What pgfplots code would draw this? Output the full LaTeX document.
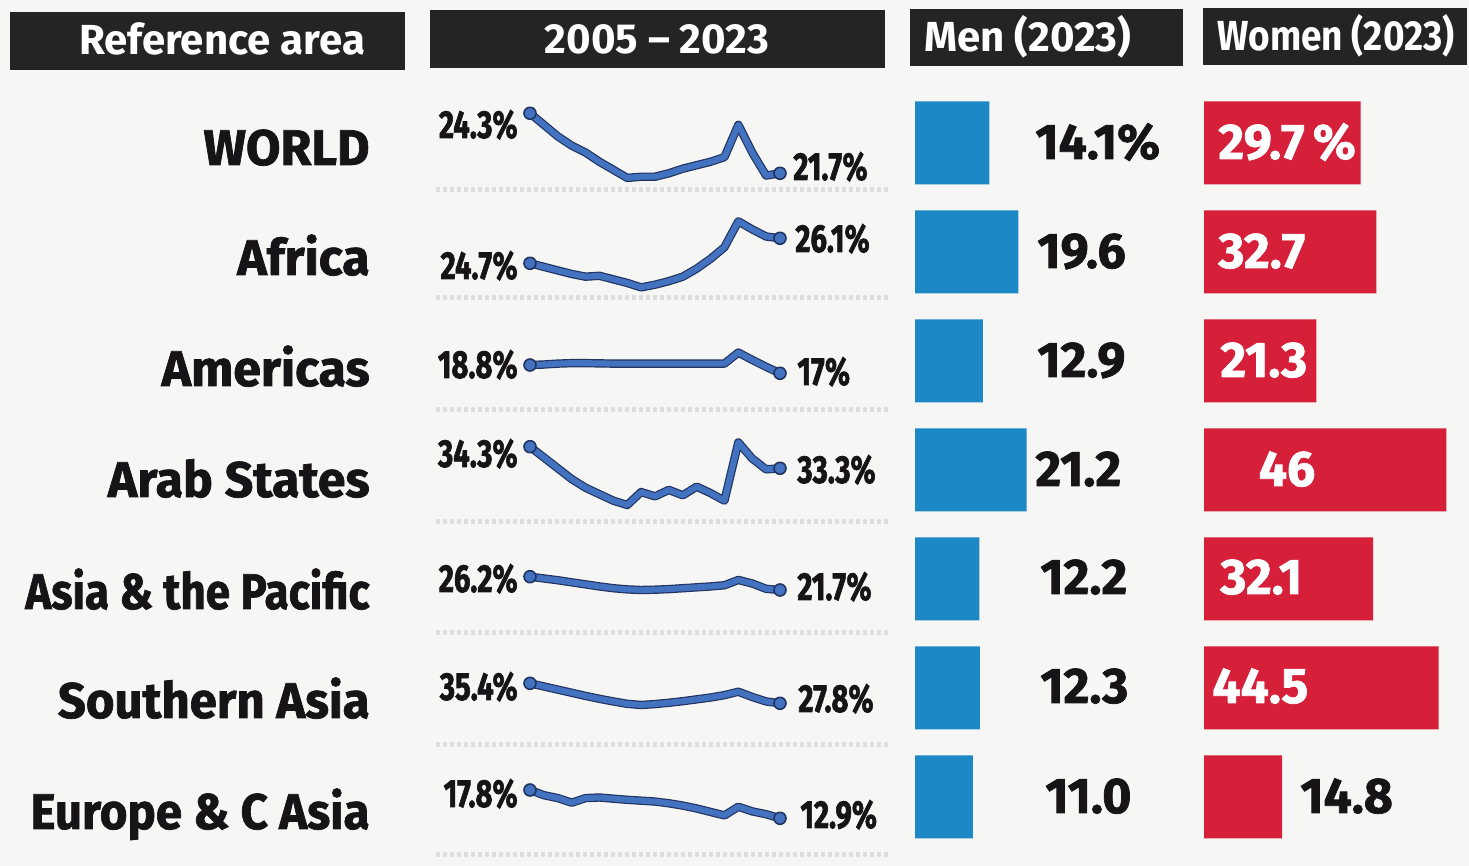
\documentclass[border=0pt]{standalone}
\usepackage{pgfplots}
\usepackage{pgfplotstable}
\usepackage{graphicx}
\pgfplotsset{compat=1.18}
\usepackage{fontspec}
\setmainfont{Fira Sans}
\newfontfamily\heavy[FakeBold=1.4]{Fira Sans}
\newfontfamily\heavier[FakeBold=2.0]{Fira Sans}

\definecolor{bg}{RGB}{246,246,244}
\definecolor{hdr}{RGB}{36,36,36}
\definecolor{menblue}{RGB}{28,136,198}
\definecolor{womred}{RGB}{214,32,58}
\definecolor{spark}{RGB}{66,114,192}
\definecolor{sparkdark}{RGB}{34,52,96}
\definecolor{ink}{RGB}{22,20,22}

% NEET rates 2005-2023 (share of youth not in employment, education or training), %
\pgfplotstableread{
year world africa americas arab asiapac sasia europe
2005 24.3  24.7  18.8  34.3  26.2  35.4  17.8
2006 23.8  24.5  18.9  33.8  25.6  34.2  16.9
2007 23.3  24.3  19.1  33.3  25.0  33.0  16.4
2008 22.9  24.1  19.2  32.8  24.3  31.8  15.6
2009 22.6  23.95 19.2  32.4  23.6  30.6  16.4
2010 22.2  24.0  19.15 32.1  22.9  29.5  16.5
2011 21.85 23.8  19.1  31.8  22.3  28.5  16.3
2012 21.5  23.6  19.1  31.6  21.9  27.6  16.1
2013 21.55 23.35 19.1  32.2  21.7  27.15 15.95
2014 21.55 23.5  19.1  32.0  21.8  27.5  15.8
2015 21.7  23.7  19.1  32.3  22.0  28.0  15.5
2016 21.9  23.95 19.1  32.05 22.3  28.6  15.1
2017 22.05 24.4  19.1  32.45 22.6  29.3  14.6
2018 22.2  24.95 19.1  32.15 22.9  30.0  14.0
2019 22.4  25.6  19.1  31.8  23.3  30.9  13.4
2020 23.8  27.05 21.5  34.5  25.1  32.2  14.9
2021 22.6  26.6  19.9  33.75 23.9  30.2  14.1
2022 21.6  26.2  18.4  33.25 22.1  28.5  13.6
2023 21.7  26.1  17.0  33.3  21.7  27.8  12.9
}\sparkdata

\pgfplotstableread{
idx men women
0 14.1 29.7
1 19.6 32.7
2 12.9 21.3
3 21.2 46.0
4 12.2 32.1
5 12.3 44.5
6 11.0 14.8
}\bardata

\pgfplotsset{
  spk/.style={anchor=south west, width=125pt, scale only axis,
    xmin=2005, xmax=2023, hide axis, clip=false},
  barax/.style={anchor=south west, width=131.75pt, height=381.5pt, scale only axis,
    xmin=0, xmax=50, ymin=-0.5, ymax=6.5, y dir=reverse, hide axis, clip=false,
    xbar, bar width=41.5pt},
}
\newcommand{\sparkplots}[1]{%
  \addplot[sparkdark, line width=4.2pt, line join=round, line cap=round] table[x=year, y=#1] {\sparkdata};
  \addplot[spark, line width=3.0pt, line join=round, line cap=round,
    mark=*, mark indices={1,19}, mark size=3pt,
    mark options={fill=spark, draw=sparkdark, line width=0.8pt}] table[x=year, y=#1] {\sparkdata};
}
\newcommand{\reg}[2][1]{\scalebox{#1}[1]{\fontsize{25}{28}\selectfont\heavy\bfseries #2}}
\newcommand{\spn}[1]{\scalebox{0.75}[1]{\fontsize{19.5}{21}\selectfont\heavier\bfseries #1}}
\newcommand{\bvn}[1]{\fontsize{25}{28}\selectfont\heavy\bfseries #1}
\newcommand{\hd}[2][1]{\scalebox{#1}[1]{\fontsize{21}{24}\selectfont\bfseries #2}}

\begin{document}
\begin{tikzpicture}
\fill[bg] (0pt,0pt) rectangle (734.5pt,433pt);

% header boxes
\fill[hdr] (5pt,398pt) rectangle (202.5pt,427pt);
\fill[hdr] (215pt,399pt) rectangle (442.5pt,428pt);
\fill[hdr] (455pt,400pt) rectangle (591.5pt,428.5pt);
\fill[hdr] (601.5pt,400.5pt) rectangle (733.5pt,429pt);
\node[white, anchor=base] at (111pt,405.5pt) {\hd{Reference area}};
\node[white, anchor=base] at (328.5pt,406pt) {\hd{2005 -- 2023}};
\node[white, anchor=base] at (514pt,407pt) {\hd{Men (2023)}};
\node[white, anchor=base] at (668pt,407.5pt) {\hd[0.88]{Women (2023)}};

% faint row separators in the trend column
\foreach \yy in {338,284,228,172,116.5,60.5,5.5}
  \draw[black!13, line width=2.5pt, dash pattern=on 2pt off 1.5pt] (218pt,\yy pt) -- (444pt,\yy pt);

% region names
\node[ink, anchor=base east, inner sep=0pt] at (185pt,350.5pt) {\reg{WORLD}};
\node[ink, anchor=base east, inner sep=0pt] at (185pt,295.5pt) {\reg{Africa}};
\node[ink, anchor=base east, inner sep=0pt] at (185pt,240pt) {\reg{Americas}};
\node[ink, anchor=base east, inner sep=0pt] at (185pt,184.5pt) {\reg{Arab States}};
\node[ink, anchor=base east, inner sep=0pt] at (185pt,128.5pt) {\reg[0.88]{Asia \& the Pacific}};
\node[ink, anchor=base east, inner sep=0pt] at (185pt,74pt) {\reg[0.98]{Southern Asia}};
\node[ink, anchor=base east, inner sep=0pt] at (185pt,18.5pt) {\reg[0.95]{Europe \& C Asia}};

% sparklines
\begin{axis}[spk, at={(265pt,346.35pt)}, height=30pt, ymin=21.7, ymax=24.3]
\sparkplots{world}
\end{axis}
\begin{axis}[spk, at={(265pt,301.35pt)}, height=12.5pt, ymin=24.7, ymax=26.1]
\sparkplots{africa}
\end{axis}
\begin{axis}[spk, at={(265pt,246.35pt)}, height=4.15pt, ymin=17, ymax=18.8]
\sparkplots{americas}
\end{axis}
\begin{axis}[spk, at={(265pt,198.85pt)}, height=10.8pt, ymin=33.3, ymax=34.3]
\sparkplots{arab}
\end{axis}
\begin{axis}[spk, at={(265pt,138pt)}, height=6.65pt, ymin=21.7, ymax=26.2]
\sparkplots{asiapac}
\end{axis}
\begin{axis}[spk, at={(265pt,81.35pt)}, height=10pt, ymin=27.8, ymax=35.4]
\sparkplots{sasia}
\end{axis}
\begin{axis}[spk, at={(265pt,23.85pt)}, height=14.15pt, ymin=12.9, ymax=17.8]
\sparkplots{europe}
\end{axis}

% sparkline end labels
\node[ink, anchor=base east, inner sep=0pt] at (259pt,364pt) {\spn{24.3\%}};
\node[ink, anchor=base east, inner sep=0pt] at (259pt,293.5pt) {\spn{24.7\%}};
\node[ink, anchor=base east, inner sep=0pt] at (259pt,244pt) {\spn{18.8\%}};
\node[ink, anchor=base east, inner sep=0pt] at (259pt,199.5pt) {\spn{34.3\%}};
\node[ink, anchor=base east, inner sep=0pt] at (259pt,137pt) {\spn{26.2\%}};
\node[ink, anchor=base east, inner sep=0pt] at (259pt,83pt) {\spn{35.4\%}};
\node[ink, anchor=base east, inner sep=0pt] at (259pt,29.5pt) {\spn{17.8\%}};
\node[ink, anchor=base west, inner sep=0pt] at (396.5pt,343pt) {\spn{21.7\%}};
\node[ink, anchor=base west, inner sep=0pt] at (397.5pt,307pt) {\spn{26.1\%}};
\node[ink, anchor=base west, inner sep=0pt] at (398.5pt,240.5pt) {\spn{17\%}};
\node[ink, anchor=base west, inner sep=0pt] at (398.5pt,191.5pt) {\spn{33.3\%}};
\node[ink, anchor=base west, inner sep=0pt] at (398.5pt,133pt) {\spn{21.7\%}};
\node[ink, anchor=base west, inner sep=0pt] at (399pt,77pt) {\spn{27.8\%}};
\node[ink, anchor=base west, inner sep=0pt] at (400pt,19pt) {\spn{12.9\%}};

% bars
\begin{axis}[barax, at={(457.5pt,7.25pt)}]
\addplot[fill=menblue, draw=none] table[x=men, y=idx] {\bardata};
\end{axis}
\begin{axis}[barax, at={(602pt,7.25pt)}]
\addplot[fill=womred, draw=none] table[x=women, y=idx] {\bardata};
\end{axis}

% bar values
\node[ink, anchor=base west, inner sep=0pt] at (517.5pt,353.5pt) {\bvn{14.1\%}};
\node[ink, anchor=base west, inner sep=0pt] at (518.5pt,299pt) {\bvn{19.6}};
\node[ink, anchor=base west, inner sep=0pt] at (518.5pt,244.5pt) {\bvn{12.9}};
\node[ink, anchor=base west, inner sep=0pt] at (517.5pt,190pt) {\bvn{21.2}};
\node[ink, anchor=base west, inner sep=0pt] at (520pt,136pt) {\bvn{12.2}};
\node[ink, anchor=base west, inner sep=0pt] at (520pt,81.5pt) {\bvn{12.3}};
\node[ink, anchor=base west, inner sep=0pt] at (522.5pt,26.5pt) {\bvn{11.0}};
\node[white, anchor=base west, inner sep=0pt] at (609pt,353.5pt) {\bvn{29.7\,\%}};
\node[white, anchor=base west, inner sep=0pt] at (609pt,299pt) {\bvn{32.7}};
\node[white, anchor=base west, inner sep=0pt] at (610pt,244.5pt) {\bvn{21.3}};
\node[white, anchor=base, inner sep=0pt] at (643.5pt,190pt) {\bvn{46}};
\node[white, anchor=base west, inner sep=0pt] at (610pt,136pt) {\bvn{32.1}};
\node[white, anchor=base west, inner sep=0pt] at (606pt,81.5pt) {\bvn{44.5}};
\node[ink, anchor=base west, inner sep=0pt] at (650pt,26.5pt) {\bvn{14.8}};
\end{tikzpicture}
\end{document}
